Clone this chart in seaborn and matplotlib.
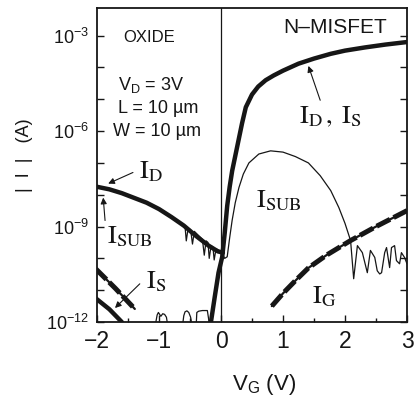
import numpy as np
import seaborn as sns
import matplotlib
matplotlib.use("Agg")
import matplotlib.pyplot as plt
from matplotlib.ticker import FixedLocator, FuncFormatter

# Data (log10 of current in A vs gate voltage in V)

# I_D below threshold (oxide side)
id_vg = [-2.0, -1.8, -1.6, -1.4, -1.2, -1.0, -0.8, -0.6, -0.4, -0.2, -0.05, 0.03]
id_log = [-7.75, -7.83, -7.95, -8.1, -8.25, -8.45, -8.7, -8.97, -9.3, -9.6, -9.78, -9.82]

# I_S (and I_D above threshold)
is_vg = [-0.17, -0.1, -0.04, 0.02, 0.06, 0.1, 0.14, 0.18, 0.26, 0.34, 0.4, 0.5,
         0.6, 0.72, 0.85, 1.0, 1.25, 1.5, 1.77, 2.0, 2.32, 2.65, 3.0]
is_log = [-12.1, -11.2, -10.45, -9.95, -9.2, -8.35, -7.75, -7.25, -6.5, -5.75, -5.25, -4.85,
          -4.6, -4.4, -4.25, -4.1, -3.88, -3.72, -3.57, -3.47, -3.37, -3.28, -3.2]

# I_S at negative gate voltage
is_neg_vg = [-2.03, -1.8, -1.6]
is_neg_log = [-11.24, -11.6, -12.0]

# I_SUB (thin line, with noise)
sub_vg = [-2.0, -1.6, -1.2, -1.0, -0.8, -0.6, -0.58, -0.56, -0.53, -0.49, -0.46, -0.43,
          -0.3, -0.27, -0.24, -0.21, -0.19, -0.16, -0.13, -0.11, -0.08, -0.03, 0.0,
          0.06, 0.1, 0.14, 0.18, 0.23, 0.29, 0.36, 0.45, 0.61, 0.8, 1.0, 1.2,
          1.41, 1.6, 1.77, 1.9, 2.0, 2.09, 2.14, 2.2, 2.28, 2.36, 2.41, 2.48,
          2.52, 2.56, 2.59, 2.64, 2.67, 2.72, 2.75, 2.8, 2.83, 2.88, 2.91, 2.96, 3.0]
sub_log = [-7.75, -7.95, -8.25, -8.45, -8.7, -8.97, -9.0, -9.45, -9.05, -9.1, -9.55, -9.15,
           -9.4, -9.9, -9.45, -9.5, -10.0, -9.6, -9.65, -10.05, -9.7, -9.75, -9.8,
           -10.0, -9.95, -9.35, -8.8, -8.25, -7.77, -7.35, -7.0, -6.72, -6.62, -6.66, -6.8,
           -7.0, -7.4, -7.87, -8.4, -8.9, -9.44, -10.64, -9.6, -9.82, -10.45, -9.75, -9.97,
           -10.39, -10.49, -10.45, -9.82, -9.66, -10.29, -9.66, -9.6, -10.07, -10.17, -9.82, -9.97, -10.17]

# I_G (dashed)
ig_vg = [0.82, 1.0, 1.2, 1.41, 1.7, 2.09, 2.5, 3.0]
ig_log = [-11.5, -11.1, -10.7, -10.3, -9.9, -9.44, -9.0, -8.5]
ig_neg_vg = [-2.02, -1.7, -1.39]
ig_neg_log = [-10.33, -10.95, -11.59]

# noise floor near 1e-12
floor_vg = [-1.06, -1.03, -1.01, -0.97, -0.94, -0.91, -0.88, -0.86, -0.62, -0.6, -0.58,
            -0.55, -0.52, -0.49, -0.47, -0.4, -0.39, -0.36, -0.3, -0.22, -0.2, -0.19]
floor_log = [-12.1, -11.78, -11.7, -11.82, -11.74, -11.76, -11.85, -12.1, -12.1, -11.8, -11.68,
             -11.65, -11.7, -11.85, -12.1, -12.1, -11.7, -11.66, -11.64, -11.64, -11.9, -12.1]

x_ticks = [-2, -1, 0, 1, 2, 3]
y_decades = list(range(-12, -2))

# Style
sns.set_style("ticks")
plt.rcParams["font.family"] = ["Liberation Sans", "DejaVu Sans"]
plt.rcParams["mathtext.fontset"] = "custom"
plt.rcParams["mathtext.rm"] = "Liberation Sans"
plt.rcParams["mathtext.it"] = "Liberation Sans:italic"
plt.rcParams["mathtext.bf"] = "Liberation Sans:bold"

ink = "#161616"

fig = plt.figure(figsize=(4.15, 4.01), dpi=100)
ax = fig.add_axes([97 / 415, 79 / 401, 310 / 415, 314 / 401])
ax.set_yscale("log")


def amp(vals):
    return 10.0 ** np.array(vals)


def draw(vg, logs, lw, **kw):
    sns.lineplot(x=np.array(vg), y=amp(logs), ax=ax, color=ink, lw=lw,
                 sort=False, estimator=None, **kw)


# curves
draw(sub_vg, sub_log, 0.9)
draw(floor_vg, floor_log, 0.9)
draw(id_vg, id_log, 3.2)
draw(is_vg, is_log, 3.2)
draw(is_neg_vg, is_neg_log, 3.2)
# gate current: medium line with thick dash segments on top
draw(ig_vg, ig_log, 1.6)
draw(ig_vg, ig_log, 3.6, linestyle=(0, (3, 0.8)))
draw(ig_neg_vg, ig_neg_log, 1.6)
draw(ig_neg_vg, ig_neg_log, 3.6, linestyle=(0, (3, 0.8)))

ax.axvline(0, color=ink, lw=0.9)

ax.set_xlim(-2, 3)
ax.set_ylim(1e-12, 10 ** -2.13)

# ticks
ax.set_xticks(x_ticks)
ax.set_xticklabels(["\u2212" + str(-t) if t < 0 else str(t) for t in x_ticks], fontsize=16.5)
ax.xaxis.set_minor_locator(FixedLocator([-1.5, -0.5, 0.5, 1.5, 2.5]))
ax.yaxis.set_major_locator(FixedLocator([10.0 ** k for k in y_decades]))
ax.yaxis.set_minor_locator(FixedLocator([]))
ax.yaxis.set_major_formatter(FuncFormatter(
    lambda v, pos: r"$10^{%d}$" % round(np.log10(v)) if round(np.log10(v)) % 3 == 0 else ""))
ax.tick_params(which="both", direction="in", right=True, width=1.0, colors=ink)
ax.tick_params(which="major", length=5)
ax.tick_params(which="minor", length=3)
ax.tick_params(axis="x", pad=6)
ax.tick_params(axis="y", labelsize=13, pad=6)
for s in ax.spines.values():
    s.set_linewidth(1.3)
    s.set_color(ink)

ax.set_xlabel(r"V$_\mathrm{G}$ (V)", fontsize=16, color=ink)
ax.xaxis.set_label_coords(0.54, -0.16)
ax.set_ylabel("|  I  |   (A)", fontsize=13, color=ink)
ax.yaxis.set_label_coords(-0.205, 0.53)

# text annotations
ax.text(-1.58, 10 ** -3.2, "OXIDE", fontsize=12, color=ink)
ax.text(1.01, 10 ** -2.91, "N\u2013MISFET", fontsize=15, color=ink)
ax.text(-1.66, 10 ** -4.71, r"V$_\mathrm{D}$ = 3V", fontsize=13, color=ink)
ax.text(-1.66, 10 ** -5.44, "L = 10 \u00b5m", fontsize=13, color=ink)
ax.text(-1.74, 10 ** -6.16, "W = 10 \u00b5m", fontsize=13, color=ink)

serif = dict(fontsize=19, color=ink, math_fontfamily="stix")
ax.text(-1.33, 10 ** -7.49, r"$\mathrm{I_D}$", **serif)
ax.text(-1.84, 10 ** -9.54, r"$\mathrm{I_{SUB}}$", **serif)
ax.text(-1.21, 10 ** -10.93, r"$\mathrm{I_S}$", **serif)
ax.text(1.25, 10 ** -5.75, r"$\mathrm{I_D\,,\;I_S}$", **serif)
ax.text(0.56, 10 ** -8.4, r"$\mathrm{I_{SUB}}$", **serif)
ax.text(1.47, 10 ** -11.43, r"$\mathrm{I_G}$", **serif)

arrow = dict(arrowstyle="-|>", color=ink, lw=0.8, mutation_scale=9, shrinkA=0, shrinkB=0)
ax.annotate("", xy=(-1.82, 10 ** -7.65), xytext=(-1.42, 10 ** -7.3), arrowprops=arrow)
ax.annotate("", xy=(-1.9, 10 ** -8.09), xytext=(-1.87, 10 ** -8.81), arrowprops=arrow)
ax.annotate("", xy=(-1.71, 10 ** -11.56), xytext=(-1.31, 10 ** -10.8), arrowprops=arrow)
ax.annotate("", xy=(1.41, 10 ** -3.95), xytext=(1.6, 10 ** -5.03), arrowprops=arrow)

fig.savefig("out.png", dpi=100)
